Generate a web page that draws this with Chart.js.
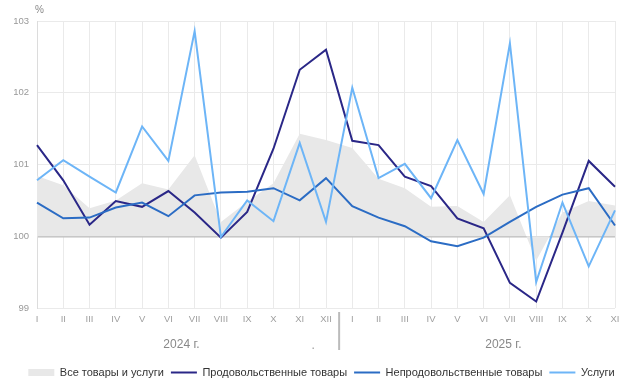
<!DOCTYPE html>
<html lang="ru">
<head>
<meta charset="UTF-8">
<title>Индексы цен</title>
<script src="https://cdn.jsdelivr.net/npm/chart.js@4/dist/chart.umd.min.js"></script>
<style>
  html, body { margin: 0; padding: 0; background: #fff; }
  #wrap { width: 643px; height: 392px; }
</style>
</head>
<body>
<div id="wrap"><canvas id="pizarra"></canvas></div>
<script>
// месяцы (2024: I-XII, 2025: I-XI)
const meses = ['I','II','III','IV','V','VI','VII','VIII','IX','X','XI','XII',
               'I','II','III','IV','V','VI','VII','VIII','IX','X','XI']
const anios = ['2024 г.', '2025 г.']
const nombres = ['Все товары и услуги', 'Продовольственные товары', 'Непродовольственные товары', 'Услуги']

const todos = [100.84, 100.71, 100.39, 100.50, 100.74, 100.65, 101.13, 100.20, 100.48, 100.74, 101.43, 101.34,
               101.23, 100.80, 100.67, 100.41, 100.42, 100.20, 100.57, 99.66, 100.33, 100.49, 100.43]
const alimentos = [101.27, 100.78, 100.16, 100.49, 100.41, 100.63, 100.33, 99.98, 100.34, 101.22, 102.32, 102.60,
                   101.33, 101.27, 100.83, 100.70, 100.25, 100.11, 99.35, 99.09, 100.05, 101.05, 100.69]
const noAlimentos = [100.47, 100.25, 100.26, 100.40, 100.47, 100.28, 100.57, 100.61, 100.62, 100.67, 100.50, 100.81,
                     100.42, 100.26, 100.14, 99.93, 99.86, 99.98, 100.20, 100.41, 100.58, 100.67, 100.15]
const servicios = [100.78, 101.06, 100.83, 100.61, 101.53, 101.05, 102.86, 99.99, 100.50, 100.21, 101.30, 100.20,
                   102.07, 100.81, 101.01, 100.53, 101.34, 100.59, 102.69, 99.36, 100.47, 99.58, 100.36]

const GRIS = '#e8e8e8'
const colores = [GRIS, '#2a2787', '#2b6cc4', '#6db5f7']
const fuente = '"Liberation Sans", Arial, sans-serif'

// textos extra: %, años y separador
const extras = {
  id: 'extras',
  afterDraw(chart) {
    const ctx = chart.ctx
    const x = chart.scales.x
    const area = chart.chartArea
    ctx.save()
    ctx.fillStyle = '#888'
    ctx.font = '10px ' + fuente
    ctx.textAlign = 'left'
    ctx.textBaseline = 'middle'
    ctx.fillText('%', area.left - 2, 10)

    ctx.font = '12px ' + fuente
    ctx.fillStyle = '#888'
    ctx.textAlign = 'center'
    ctx.fillText(anios[0], x.getPixelForValue(5.5), 345)
    ctx.fillText(anios[1], x.getPixelForValue(17.75), 345)

    const sep = (x.getPixelForValue(11) + x.getPixelForValue(12)) / 2
    ctx.strokeStyle = '#bbb'
    ctx.lineWidth = 2
    ctx.beginPath()
    ctx.moveTo(sep, 312)
    ctx.lineTo(sep, 350)
    ctx.stroke()
    ctx.fillStyle = '#999'
    ctx.fillText('.', sep - 26, 346)
    ctx.restore()
  }
}

const series = [todos, alimentos, noAlimentos, servicios]

const g = document.getElementById('pizarra')
const myChart = new Chart(g, {
  type: 'line',
  data: {
    labels: meses,
    datasets: series.map((valores, i) => ({
      label: nombres[i],
      data: valores,
      borderColor: i === 0 ? 'rgba(0,0,0,0)' : colores[i],
      backgroundColor: colores[i],
      borderWidth: i === 0 ? 0 : 2,
      fill: i === 0 ? { value: 100 } : false,
      pointRadius: 0,
      tension: 0,
      order: i === 0 ? 10 : 4 - i
    }))
  },
  options: {
    responsive: true,
    maintainAspectRatio: false,
    animation: false,
    layout: { padding: { top: 21, right: 14, left: 14, bottom: 4 } },
    plugins: {
      tooltip: { enabled: false },
      legend: {
        position: 'bottom',
        labels: {
          usePointStyle: true,
          pointStyleWidth: 26,
          boxWidth: 26,
          boxHeight: 7,
          padding: 7,
          color: '#333',
          font: { family: fuente, size: 11 },
          generateLabels: chart => chart.data.datasets.map((ds, i) => ({
            text: ds.label,
            fillStyle: i === 0 ? GRIS : 'rgba(0,0,0,0)',
            strokeStyle: i === 0 ? GRIS : colores[i],
            lineWidth: i === 0 ? 0 : 2,
            pointStyle: i === 0 ? 'rect' : 'line',
            fontColor: '#333',
            hidden: false,
            datasetIndex: i
          }))
        }
      }
    },
    scales: {
      x: {
        offset: false,
        grid: { color: '#eaeaea', drawTicks: false },
        border: { display: false },
        ticks: {
          autoSkip: false, maxRotation: 0, padding: 6,
          color: '#a0a0a0', font: { family: fuente, size: 9.5 }
        },
        afterFit: s => { s.height = 52 }
      },
      y: {
        min: 99, max: 103,
        grid: {
          color: c => c.tick && c.tick.value === 100 ? '#bdbdbd' : '#eaeaea',
          lineWidth: c => c.tick && c.tick.value === 100 ? 1.5 : 1,
          drawTicks: false
        },
        border: { display: true, color: '#dcdcdc' },
        ticks: {
          stepSize: 1, padding: 8,
          color: '#999', font: { family: fuente, size: 9.5 }
        },
        afterFit: s => { s.width = 23 }
      },
      // пустая ось справа, чтобы легенда была по центру
      yR: {
        position: 'right',
        display: true,
        grid: { display: false },
        border: { display: false },
        ticks: { display: false },
        afterFit: s => { s.width = 14 }
      }
    }
  },
  plugins: [extras]
})
</script>
</body>
</html>
